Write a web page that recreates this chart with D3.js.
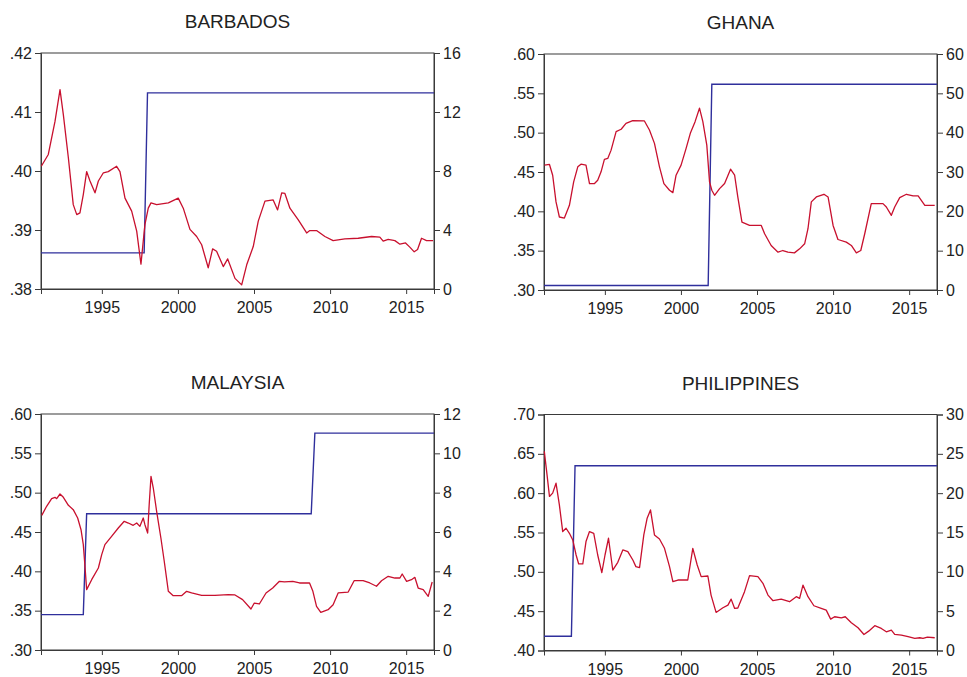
<!DOCTYPE html>
<html>
<head>
<meta charset="utf-8">
<script src="https://cdn.jsdelivr.net/npm/d3@7"></script>
<style>
  html, body { margin: 0; padding: 0; background: #fff; }
  svg { display: block; font-family: Arial, "Liberation Sans", Helvetica, sans-serif; }
</style>
</head>
<body>
<svg id="chart" width="967" height="677"></svg>
<script>
// Sample span (quarterly, 1991Q1 - 2016Q4)
const timeSpan = [1991, 2016.83];
const yearTicks = [1995, 2000, 2005, 2010, 2015];

// Panel titles
const countries = ["BARBADOS", "GHANA", "MALAYSIA", "PHILIPPINES"];

// Left-axis ranges and tick labels
const leftDomains = [[0.38, 0.42], [0.30, 0.60], [0.30, 0.60], [0.40, 0.70]];
const leftTicks = [
  [0.38, 0.39, 0.40, 0.41, 0.42],
  [0.30, 0.35, 0.40, 0.45, 0.50, 0.55, 0.60],
  [0.30, 0.35, 0.40, 0.45, 0.50, 0.55, 0.60],
  [0.40, 0.45, 0.50, 0.55, 0.60, 0.65, 0.70]
];

// Right-axis ranges and tick labels
const rightDomains = [[0, 16], [0, 60], [0, 12], [0, 30]];
const rightTicks = [
  [0, 4, 8, 12, 16],
  [0, 10, 20, 30, 40, 50, 60],
  [0, 2, 4, 6, 8, 10, 12],
  [0, 5, 10, 15, 20, 25, 30]
];

// Red series (left axis): [year, value]
const barbadosRed = [
  [1991.02, .4008], [1991.48, .4028], [1991.92, .4084], [1992.25, .4138], [1992.47, .4095],
  [1992.80, .4022], [1993.12, .3943], [1993.35, .3926], [1993.56, .3929], [1993.78, .3960],
  [1994.00, .3999], [1994.22, .3983], [1994.55, .3963], [1994.77, .3983], [1995.10, .3997],
  [1995.42, .3999], [1995.97, .4008], [1996.19, .3999], [1996.52, .3954], [1996.96, .3932],
  [1997.29, .3898], [1997.57, .3842], [1997.72, .3881], [1997.83, .3909], [1998.05, .3937],
  [1998.23, .3946], [1998.60, .3943], [1999.37, .3946], [2000.02, .3954], [2000.35, .3937],
  [2000.79, .3901], [2001.23, .3889], [2001.56, .3875], [2001.99, .3836], [2002.28, .3868],
  [2002.54, .3864], [2002.98, .3838], [2003.27, .3851], [2003.75, .3818], [2004.19, .3807],
  [2004.52, .3841], [2004.95, .3872], [2005.28, .3915], [2005.72, .3949], [2006.26, .3951],
  [2006.55, .3934], [2006.82, .3963], [2007.03, .3962], [2007.36, .3937], [2007.91, .3917],
  [2008.46, .3895], [2008.67, .3899], [2009.11, .3899], [2009.66, .3889], [2010.20, .3882],
  [2010.97, .3885], [2011.85, .3886], [2012.73, .3889], [2013.27, .3888], [2013.49, .3881],
  [2013.82, .3884], [2014.26, .3882], [2014.59, .3876], [2014.96, .3878], [2015.24, .3871],
  [2015.53, .3863], [2015.75, .3867], [2016.01, .3886], [2016.34, .3882], [2016.77, .3882]
];

const ghanaRed = [
  [1991.03, .4587], [1991.36, .4596], [1991.57, .4459], [1991.79, .4120], [1992.01, .3928],
  [1992.34, .3915], [1992.67, .4077], [1992.95, .4375], [1993.22, .4566], [1993.43, .4600],
  [1993.76, .4587], [1993.99, .4353], [1994.32, .4353], [1994.53, .4395], [1994.75, .4502],
  [1994.97, .4660], [1995.19, .4672], [1995.41, .4778], [1995.74, .5013], [1996.07, .5043],
  [1996.39, .5119], [1996.83, .5153], [1997.60, .5149], [1997.93, .5034], [1998.26, .4864],
  [1998.59, .4566], [1998.88, .4353], [1999.25, .4268], [1999.47, .4238], [1999.68, .4459],
  [2000.01, .4587], [2000.34, .4800], [2000.63, .5000], [2000.93, .5140], [2001.22, .5311],
  [2001.44, .5140], [2001.70, .4842], [2001.88, .4375], [2002.03, .4268], [2002.21, .4204],
  [2002.54, .4289], [2002.87, .4353], [2003.26, .4536], [2003.53, .4459], [2003.74, .4180],
  [2004.01, .3864], [2004.51, .3821], [2005.28, .3821], [2005.50, .3715], [2005.93, .3566],
  [2006.38, .3481], [2006.70, .3502], [2007.03, .3481], [2007.46, .3472], [2007.80, .3523],
  [2008.13, .3587], [2008.35, .3779], [2008.57, .4120], [2008.90, .4183], [2009.40, .4217],
  [2009.67, .4183], [2010.00, .3821], [2010.32, .3642], [2010.87, .3609], [2011.20, .3566],
  [2011.53, .3472], [2011.82, .3502], [2012.08, .3715], [2012.51, .4098], [2013.28, .4098],
  [2013.50, .4055], [2013.83, .3949], [2014.05, .4055], [2014.38, .4174], [2014.82, .4217],
  [2015.26, .4196], [2015.59, .4196], [2016.03, .4077], [2016.68, .4077]
];

const malaysiaRed = [
  [1991.05, .4712], [1991.37, .4827], [1991.70, .4924], [1991.92, .4941], [1992.03, .4924],
  [1992.25, .4983], [1992.47, .4941], [1992.80, .4839], [1993.12, .4784], [1993.41, .4678],
  [1993.63, .4529], [1993.78, .4339], [1993.89, .4064], [1994.00, .3767], [1994.33, .3894],
  [1994.77, .4042], [1994.99, .4212], [1995.20, .4339], [1995.64, .4445], [1996.08, .4551],
  [1996.47, .4636], [1996.74, .4614], [1997.06, .4585], [1997.29, .4614], [1997.50, .4572],
  [1997.72, .4678], [1997.83, .4593], [1998.01, .4487], [1998.11, .4847], [1998.23, .5208],
  [1998.38, .5059], [1998.60, .4763], [1998.88, .4424], [1999.10, .4128], [1999.37, .3746],
  [1999.69, .3691], [2000.24, .3691], [2000.57, .3746], [2000.90, .3725], [2001.56, .3695],
  [2002.43, .3695], [2003.31, .3703], [2003.75, .3700], [2004.25, .3640], [2004.80, .3521],
  [2005.02, .3597], [2005.35, .3585], [2005.79, .3725], [2006.23, .3788], [2006.67, .3873],
  [2007.00, .3865], [2007.55, .3873], [2007.99, .3852], [2008.65, .3852], [2008.87, .3746],
  [2009.11, .3555], [2009.39, .3479], [2009.87, .3512], [2010.20, .3576], [2010.53, .3725],
  [2011.19, .3737], [2011.58, .3881], [2012.17, .3881], [2012.61, .3852], [2013.05, .3810],
  [2013.38, .3881], [2013.82, .3937], [2014.26, .3915], [2014.59, .3915], [2014.74, .3966],
  [2015.03, .3873], [2015.35, .3894], [2015.57, .3924], [2015.79, .3788], [2016.12, .3767],
  [2016.45, .3682], [2016.71, .3865]
];

const philippinesRed = [
  [1991.02, .6531], [1991.20, .6233], [1991.36, .5958], [1991.57, .6000], [1991.79, .6127],
  [1992.01, .5851], [1992.23, .5512], [1992.45, .5554], [1992.67, .5490], [1992.89, .5405],
  [1993.11, .5214], [1993.28, .5100], [1993.55, .5100], [1993.76, .5385], [1993.99, .5512],
  [1994.27, .5490], [1994.53, .5214], [1994.80, .4990], [1995.01, .5214], [1995.24, .5427],
  [1995.52, .5023], [1995.85, .5121], [1996.18, .5278], [1996.51, .5257], [1996.84, .5150],
  [1997.04, .5066], [1997.28, .5053], [1997.56, .5469], [1997.78, .5682], [1998.00, .5787],
  [1998.26, .5469], [1998.59, .5418], [1998.92, .5299], [1999.25, .5066], [1999.47, .4875],
  [1999.80, .4896], [2000.45, .4896], [2000.78, .5299], [2001.07, .5087], [2001.33, .4939],
  [2001.77, .4947], [2001.98, .4704], [2002.31, .4484], [2002.76, .4544], [2003.09, .4577],
  [2003.30, .4653], [2003.53, .4535], [2003.74, .4540], [2004.18, .4748], [2004.51, .4952],
  [2005.06, .4939], [2005.39, .4854], [2005.72, .4704], [2006.05, .4633], [2006.59, .4653],
  [2007.14, .4620], [2007.58, .4684], [2007.80, .4662], [2008.02, .4832], [2008.35, .4684],
  [2008.74, .4569], [2009.22, .4535], [2009.55, .4513], [2009.84, .4399], [2010.10, .4429],
  [2010.54, .4416], [2010.80, .4429], [2011.20, .4353], [2011.64, .4289], [2012.03, .4204],
  [2012.34, .4246], [2012.74, .4315], [2013.17, .4280], [2013.50, .4238], [2013.83, .4259],
  [2014.05, .4204], [2014.49, .4195], [2014.93, .4175], [2015.37, .4153], [2015.70, .4162],
  [2015.91, .4153], [2016.20, .4170], [2016.68, .4162]
];

// Blue step series (right axis): [year, value]
const barbadosBlue = [[1991.00, 2.45], [1997.78, 2.45], [1998.00, 13.3], [2016.83, 13.3]];
const ghanaBlue = [[1991.00, 1.15], [2001.79, 1.15], [2002.03, 52.3], [2016.83, 52.3]];
const malaysiaBlue = [[1991.00, 1.80], [1993.78, 1.80], [1994.00, 6.93], [2008.76, 6.93], [2009.00, 11.03], [2016.83, 11.03]];
const philippinesBlue = [[1991.00, 1.82], [1992.80, 1.82], [1993.04, 23.48], [2016.83, 23.48]];

const redSeries = [barbadosRed, ghanaRed, malaysiaRed, philippinesRed];
const blueSeries = [barbadosBlue, ghanaBlue, malaysiaBlue, philippinesBlue];

// Panel frames
const panelLeft = [41, 544, 41, 544];
const panelTop = [53, 54, 414, 414.5];
const plotW = 393;
const plotH = 236;

const svg = d3.select("#chart");
const axisColor = "#3a3a3a";
const textColor = "#222";
const redColor = "#c8102e";
const blueColor = "#2f2f9c";
const fmtLeft = v => d3.format(".2f")(v).replace(/^0/, "");

countries.forEach((name, i) => {
  const g = svg.append("g").attr("transform", `translate(${panelLeft[i]},${panelTop[i]})`);

  const x = d3.scaleLinear().domain(timeSpan).range([0, plotW]);
  const yL = d3.scaleLinear().domain(leftDomains[i]).range([plotH, 0]);
  const yR = d3.scaleLinear().domain(rightDomains[i]).range([plotH, 0]);

  // Frame
  g.append("rect")
    .attr("x", 0).attr("y", 0).attr("width", plotW).attr("height", plotH)
    .attr("fill", "none").attr("stroke", axisColor).attr("stroke-width", 1);

  // Axes
  const xAxis = d3.axisBottom(x).tickValues(yearTicks).tickFormat(d3.format("d")).tickSize(5).tickPadding(8);
  const leftAxis = d3.axisLeft(yL).tickValues(leftTicks[i]).tickFormat(fmtLeft).tickSize(6).tickPadding(3);
  const rightAxis = d3.axisRight(yR).tickValues(rightTicks[i]).tickFormat(d3.format("d")).tickSize(6).tickPadding(3);

  [
    g.append("g").attr("transform", `translate(0,${plotH})`).call(xAxis),
    g.append("g").call(leftAxis),
    g.append("g").attr("transform", `translate(${plotW},0)`).call(rightAxis)
  ].forEach(ax => {
    ax.select(".domain").attr("stroke", axisColor);
    ax.selectAll(".tick line").attr("stroke", axisColor);
    ax.selectAll(".tick text")
      .attr("fill", textColor)
      .style("font-size", "16px")
      .style("font-family", "Arial, 'Liberation Sans', sans-serif");
  });

  // Title
  g.append("text")
    .attr("x", plotW / 2).attr("y", -25)
    .attr("text-anchor", "middle")
    .attr("fill", textColor)
    .style("font-size", "19px")
    .text(name);

  // Blue step series on the right scale
  g.append("path")
    .datum(blueSeries[i])
    .attr("fill", "none")
    .attr("stroke", blueColor)
    .attr("stroke-width", 1.4)
    .attr("d", d3.line().x(d => x(d[0])).y(d => yR(d[1])));

  // Red series on the left scale
  g.append("path")
    .datum(redSeries[i])
    .attr("fill", "none")
    .attr("stroke", redColor)
    .attr("stroke-width", 1.3)
    .attr("stroke-linejoin", "round")
    .attr("d", d3.line().x(d => x(d[0])).y(d => yL(d[1])));
});
</script>
</body>
</html>
